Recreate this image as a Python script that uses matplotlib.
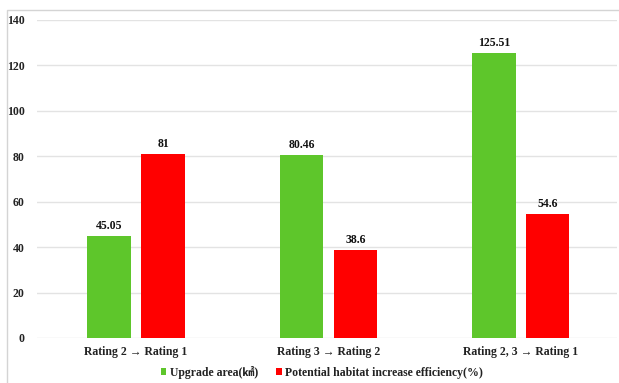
import matplotlib
matplotlib.use("Agg")
import matplotlib.pyplot as plt
from matplotlib.patches import Rectangle
import numpy as np

categories = ["Rating 2 \u2192 Rating 1", "Rating 3 \u2192 Rating 2", "Rating 2, 3 \u2192 Rating 1"]
upgrade_area = [45.05, 80.46, 125.51]
habitat_eff = [81, 38.6, 54.6]
value_labels_area = ["45.05", "80.46", "125.51"]
value_labels_eff = ["81", "38.6", "54.6"]
series_names = ["Upgrade area(\u33a2)", "Potential habitat increase efficiency(%)"]
yticks = [0, 20, 40, 60, 80, 100, 120, 140]

GREEN = "#5ec62b"
RED = "#ff0000"
FONT = ["Liberation Serif", "Noto Sans CJK SC", "DejaVu Sans"]
FS = 8.5

plt.rcParams["font.family"] = FONT
plt.rcParams["font.weight"] = "bold"

W, H = 619, 383
fig = plt.figure(figsize=(W / 100, H / 100), dpi=100)

# light frame around the chart
fig.patches.append(Rectangle((7 / W, -0.1), 1.2, 1 - 10 / H + 0.1,
                             transform=fig.transFigure, fill=False,
                             edgecolor="#d4d4d4", linewidth=1.0))

left, right = 37 / W, 617 / W
bottom, top = 1 - 338 / H, 1 - 20 / H
ax = fig.add_axes([left, bottom, right - left, top - bottom])

x = np.arange(len(categories))
width = 0.225
off = 0.14
b1 = ax.bar(x - off, upgrade_area, width, color=GREEN, label=series_names[0], zorder=3)
b2 = ax.bar(x + off, habitat_eff, width, color=RED, label=series_names[1], zorder=3)

for bars, labels in ((b1, value_labels_area), (b2, value_labels_eff)):
    for rect, lab in zip(bars, labels):
        ax.annotate(lab, (rect.get_x() + rect.get_width() / 2, rect.get_height()),
                    xytext=(0, 3), textcoords="offset points", ha="center", va="bottom",
                    fontsize=FS, fontweight="bold", color="#111111")

ax.set_xlim(-0.515, 2.5)
ax.set_ylim(0, 140)
ax.set_yticks(yticks)
ax.set_yticklabels([str(v) for v in yticks], fontsize=FS, fontweight="bold", color="#222222")
ax.set_xticks(x)
ax.set_xticklabels(categories, fontsize=FS, fontweight="bold", color="#222222")
ax.tick_params(axis="y", length=0, pad=9)
ax.tick_params(axis="x", length=0, pad=6)
ax.grid(axis="y", color="#e3e3e3", linewidth=1.0, zorder=0)
for s in ax.spines.values():
    s.set_visible(False)

leg = fig.legend(handles=[b1, b2], labels=series_names, loc="center",
                 bbox_to_anchor=(0.52, 1 - 372 / H), ncol=2, frameon=False,
                 fontsize=FS, handlelength=0.5, handleheight=0.5,
                 handletextpad=0.3, columnspacing=1.5)
for t in leg.get_texts():
    t.set_fontweight("bold")
    t.set_color("#222222")

fig.savefig("out.png", dpi=100)
